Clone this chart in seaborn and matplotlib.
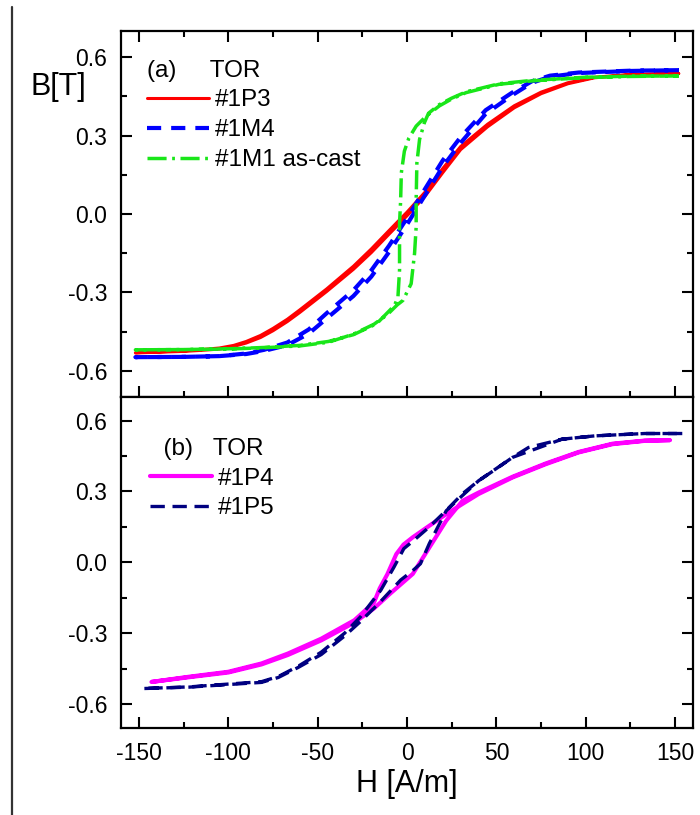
import numpy as np
import pandas as pd
import matplotlib
matplotlib.use('Agg')
import matplotlib.pyplot as plt
import seaborn as sns
from matplotlib.lines import Line2D
from matplotlib.ticker import MultipleLocator, FormatStrFormatter

# Panel (a): TOR samples #1P3, #1M4, #1M1 as-cast (descending / ascending branches)
H_1P3_dn = [152, 125, 105, 90, 75, 60, 45, 30, 20, 10, 0, -10, -20, -30, -45, -60, -67, -75, -82, -90, -97,
            -105, -115, -125, -152]
B_1P3_dn = [0.537, 0.534, 0.523, 0.502, 0.466, 0.414, 0.343, 0.258, 0.174, 0.083, 0.007, -0.063, -0.134, -0.2,
            -0.287, -0.367, -0.403, -0.438, -0.465, -0.488, -0.503, -0.513, -0.519, -0.524, -0.531]
H_1P3_up = [-152, -125, -115, -105, -97, -90, -82, -75, -67, -60, -45, -30, -20, -10, 0, 10, 20, 30, 45, 60, 75,
            90, 105, 125, 152]
B_1P3_up = [-0.532, -0.526, -0.522, -0.517, -0.507, -0.494, -0.473, -0.447, -0.412, -0.377, -0.297, -0.212,
            -0.148, -0.077, -0.007, 0.067, 0.158, 0.246, 0.333, 0.406, 0.46, 0.498, 0.521, 0.532, 0.537]

H_1M4_dn = [152, 125, 96, 80, 70, 59, 44, 30, 20, 10, 0, -10, -20, -30, -45, -55, -67, -80, -90, -105, -125, -152]
B_1M4_dn = [0.55, 0.548, 0.541, 0.529, 0.508, 0.465, 0.397, 0.294, 0.205, 0.095, -0.016, -0.121, -0.216, -0.292,
            -0.38, -0.442, -0.492, -0.52, -0.534, -0.544, -0.547, -0.548]
H_1M4_up = [-152, -125, -105, -90, -80, -67, -55, -45, -30, -20, -10, 0, 10, 20, 30, 44, 59, 70, 80, 96, 125, 152]
B_1M4_up = [-0.548, -0.547, -0.544, -0.536, -0.524, -0.502, -0.458, -0.40, -0.314, -0.24, -0.145, -0.04, 0.071,
            0.181, 0.272, 0.383, 0.455, 0.502, 0.525, 0.539, 0.547, 0.55]

H_1M1_dn = [152, 125, 100, 70, 51.5, 33, 25, 18, 10.7, 5.1, 1, -1.5, -3.2, -3.6, -4.2, -4.2, -5.1, -7, -9.7, -17,
            -30, -44, -60, -80, -100, -125, -152]
B_1M1_dn = [0.528, 0.526, 0.522, 0.509, 0.496, 0.464, 0.44, 0.413, 0.374, 0.336, 0.29, 0.24, 0.157, 0.05, -0.036,
            -0.215, -0.318, -0.35, -0.369, -0.42, -0.462, -0.488, -0.503, -0.511, -0.516, -0.519, -0.52]
H_1M1_up = [-152, -125, -100, -80, -60, -44, -30, -18.5, -11, -5.5, -2.3, 2.3, 4.2, 5.1, 5.1, 5.5, 7, 9.7, 12, 18,
            25, 33, 51.5, 70, 100, 125, 152]
B_1M1_up = [-0.52, -0.519, -0.517, -0.512, -0.505, -0.491, -0.46, -0.422, -0.385, -0.348, -0.331, -0.267, -0.151,
            -0.05, 0.054, 0.195, 0.285, 0.349, 0.385, 0.418, 0.443, 0.467, 0.498, 0.511, 0.523, 0.527, 0.528]

# Panel (b): TOR samples #1P4, #1P5
H_1P4_dn = [147, 133, 115, 96, 77.5, 59, 40, 31, 22, 12.5, 3.2, -2, -6, -11, -15.3, -18.5, -29.5, -48, -66.7,
            -81.5, -100, -122, -143]
B_1P4_dn = [0.517, 0.514, 0.50, 0.465, 0.415, 0.359, 0.289, 0.247, 0.204, 0.155, 0.106, 0.075, 0.035, -0.05,
            -0.11, -0.17, -0.245, -0.323, -0.386, -0.428, -0.463, -0.484, -0.506]
H_1P4_up = [-143, -122, -100, -81.5, -66.7, -48, -29.5, -18.5, -9.7, 3.2, 12.5, 21.9, 31, 40, 59, 77.5, 96, 115,
            133, 147]
B_1P4_up = [-0.506, -0.486, -0.466, -0.432, -0.392, -0.33, -0.255, -0.195, -0.134, -0.049, 0.063, 0.176, 0.26,
            0.295, 0.362, 0.418, 0.467, 0.502, 0.515, 0.517]

H_1P5_dn = [154, 133, 105, 86.7, 68, 59, 49.6, 40, 31, 22, 12.5, 3.8, -1.8, -7.3, -14.7, -26, -35, -48, -61, -72,
            -81.5, -100, -122, -148]
B_1P5_dn = [0.545, 0.545, 0.535, 0.521, 0.486, 0.444, 0.394, 0.345, 0.29, 0.22, 0.15, 0.093, 0.058, -0.02, -0.118,
            -0.23, -0.30, -0.38, -0.44, -0.483, -0.505, -0.515, -0.527, -0.534]
H_1P5_up = [-148, -122, -100, -81.5, -72, -61, -48, -35, -26, -14.7, -3.6, 3.2, 7.5, 12.5, 21.9, 28, 40, 59, 86.7,
            105, 133, 154]
B_1P5_up = [-0.534, -0.528, -0.517, -0.508, -0.487, -0.445, -0.39, -0.312, -0.25, -0.165, -0.075, -0.035, -0.006,
            0.08, 0.218, 0.262, 0.345, 0.444, 0.521, 0.535, 0.545, 0.545]


def loop(h_dn, b_dn, h_up, b_up):
    return pd.DataFrame({'H': h_dn + h_up, 'B': b_dn + b_up})


sns.set_theme(style='ticks')
plt.rcParams['font.family'] = ['Liberation Sans', 'DejaVu Sans']
plt.rcParams['axes.unicode_minus'] = False
plt.rcParams['text.color'] = 'black'
plt.rcParams['axes.labelcolor'] = 'black'

fig, (ax_a, ax_b) = plt.subplots(2, 1, figsize=(7, 8.15), dpi=100, sharex=True,
                                 gridspec_kw={'height_ratios': [366, 331], 'hspace': 0})
fig.subplots_adjust(left=0.173, right=0.99, top=0.962, bottom=0.107)

# panel (a)
sns.lineplot(data=loop(H_1P3_dn, B_1P3_dn, H_1P3_up, B_1P3_up), x='H', y='B', sort=False, estimator=None,
             ax=ax_a, color='#ff0000', lw=2.2, label='#1P3')
sns.lineplot(data=loop(H_1M4_dn, B_1M4_dn, H_1M4_up, B_1M4_up), x='H', y='B', sort=False, estimator=None,
             ax=ax_a, color='#0000ff', lw=3, linestyle=(0, (3.4, 2.4)), label='#1M4')
sns.lineplot(data=loop(H_1M1_dn, B_1M1_dn, H_1M1_up, B_1M1_up), x='H', y='B', sort=False, estimator=None,
             ax=ax_a, color='#19e619', lw=2.5, linestyle=(0, (5.5, 1.6, 0.8, 1.6)), label='#1M1 as-cast')

# panel (b)
sns.lineplot(data=loop(H_1P4_dn, B_1P4_dn, H_1P4_up, B_1P4_up), x='H', y='B', sort=False, estimator=None,
             ax=ax_b, color='#ff00ff', lw=3, label='#1P4')
sns.lineplot(data=loop(H_1P5_dn, B_1P5_dn, H_1P5_up, B_1P5_up), x='H', y='B', sort=False, estimator=None,
             ax=ax_b, color='#000080', lw=2.4, linestyle=(0, (4.3, 2.3)), label='#1P5')

for ax in (ax_a, ax_b):
    ax.set_xlim(-160, 160)
    ax.set_ylim(-0.7, 0.7)
    ax.xaxis.set_major_locator(MultipleLocator(50))
    ax.xaxis.set_minor_locator(MultipleLocator(25))
    ax.yaxis.set_major_locator(MultipleLocator(0.3))
    ax.yaxis.set_minor_locator(MultipleLocator(0.15))
    ax.yaxis.set_major_formatter(FormatStrFormatter('%.1f'))
    ax.tick_params(which='both', direction='in', top=True, right=True, width=1.5, colors='black',
                   labelsize=16.5, pad=10)
    ax.tick_params(which='major', length=8)
    ax.tick_params(which='minor', length=4)
    for s in ax.spines.values():
        s.set_linewidth(1.6)
        s.set_color('black')
    ax.set_xlabel('')
    ax.set_ylabel('')

ax_a.tick_params(labelbottom=False)
ax_b.tick_params(which='both', top=False)

leg_a = ax_a.legend(title='(a)     TOR', loc='upper left', bbox_to_anchor=(0.016, 0.968), frameon=False,
                    fontsize=17.5, title_fontsize=17.5, handlelength=2.55, handletextpad=0.22,
                    labelspacing=0.32, alignment='left', borderpad=0.2)
leg_b = ax_b.legend(title='  (b)   TOR', loc='upper left', bbox_to_anchor=(0.021, 0.928), frameon=False,
                    fontsize=17.5, title_fontsize=17.5, handlelength=2.55, handletextpad=0.22,
                    labelspacing=0.32, alignment='left', borderpad=0.2)

ax_a.set_ylabel('B[T]', rotation=0, fontsize=22, ha='center', va='center')
ax_a.yaxis.set_label_coords(-0.11, 0.847)
ax_b.set_xlabel('H [A/m]', fontsize=22, labelpad=3)

# page border line on the left
fig.add_artist(Line2D([12 / 700, 12 / 700], [0, 1 - 7 / 815], color='#333333', lw=1.6))

plt.savefig('out.png', dpi=100)
